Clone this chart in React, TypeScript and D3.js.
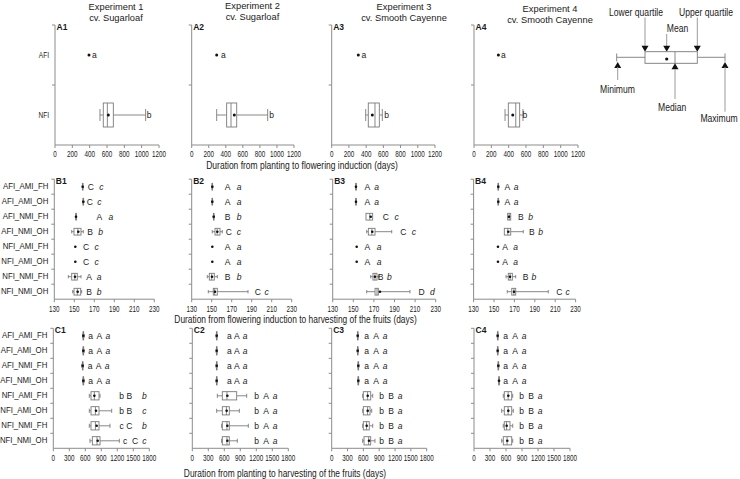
import React from "react";
import * as d3 from "d3";

type Stat = [number | null, number | null, number | null, number | null, number | null, number];

// ---------- categories & ticks ----------
const rowsA = ["AFI", "NFI"];
const rowsBC = ["AFI_AMI_FH", "AFI_AMI_OH", "AFI_NMI_FH", "AFI_NMI_OH", "NFI_AMI_FH", "NFI_AMI_OH", "NFI_NMI_FH", "NFI_NMI_OH"];
const expTitles = ["Experiment 1", "Experiment 2", "Experiment 3", "Experiment 4"];
const cvTitles = ["cv. Sugarloaf", "cv. Sugarloaf", "cv. Smooth Cayenne", "cv. Smooth Cayenne"];
const ticksA = [0, 200, 400, 600, 800, 1000, 1200];
const ticksB = [130, 150, 170, 190, 210, 230];
const ticksC = [0, 300, 600, 900, 1200, 1500, 1800];
const axisTitleA = "Duration from planting to flowering induction (days)";
const axisTitleB = "Duration from flowering induction to harvesting of the fruits (days)";
const axisTitleC = "Duration from planting to harvesting of the fruits (days)";

// ---------- Row A: [min, q1, median, q3, max, mean] ----------
const statsA1: Stat[] = [[null, null, null, null, null, 392], [519, 557, 604, 673, 1046, 615]];
const statsA2: Stat[] = [[null, null, null, null, null, 293], [293, 410, 461, 528, 891, 500]];
const statsA3: Stat[] = [[null, null, null, null, null, 309], [395, 425, 503, 553, 588, 472]];
const statsA4: Stat[] = [[null, null, null, null, null, 281], [358, 396, 482, 527, 565, 447]];
const lettersA = ["a", "b"];
const labelAtA1 = [[453], [1085]];
const labelAtA2 = [[371], [938]];
const labelAtA3 = [[375], [639]];
const labelAtA4 = [[338], [588]];

// ---------- Row B ----------
const statsB1: Stat[] = [
  [158.0, 158.1, 158.4, 158.7, 158.8, 158.4],
  [158.6, 158.7, 159.0, 159.3, 159.4, 159.0],
  [151.4, 151.5, 151.7, 152.0, 152.1, 151.7],
  [147.4, 149.7, 153.5, 156.7, 159.0, 154.0],
  [null, null, null, null, null, 151.0],
  [null, null, null, null, null, 151.0],
  [144.0, 147.4, 150.5, 153.0, 156.7, 150.7],
  [148.4, 149.7, 153.0, 156.4, 157.4, 153.4],
];
const statsB2: Stat[] = [
  [150.2, 150.3, 150.6, 150.9, 151.0, 150.6],
  [150.2, 150.3, 150.6, 150.9, 151.0, 150.6],
  [151.6, 151.7, 152.0, 152.3, 152.4, 152.0],
  [150.6, 153.3, 155.5, 158.3, 160.6, 155.6],
  [null, null, null, null, null, 150.6],
  [null, null, null, null, null, 150.6],
  [145.6, 147.6, 150.0, 152.6, 155.6, 150.3],
  [146.6, 151.6, 153.0, 155.6, 186.3, 153.3],
];
const statsB3: Stat[] = [
  [152.2, 152.3, 152.6, 152.9, 153.0, 152.6],
  [152.2, 152.3, 152.6, 152.9, 153.0, 152.6],
  [162.3, 162.3, 166.0, 168.8, 168.8, 166.9],
  [163.0, 164.6, 168.0, 171.1, 187.3, 168.4],
  [null, null, null, null, null, 153.3],
  [null, null, null, null, null, 153.3],
  [166.9, 169.1, 171.0, 173.0, 175.0, 171.0],
  [163.0, 171.1, 173.0, 174.3, 205.0, 175.9],
];
const statsB4: Stat[] = [
  [153.8, 153.9, 154.2, 154.5, 154.6, 154.2],
  [153.8, 153.9, 154.2, 154.5, 154.6, 154.2],
  [163.4, 163.4, 164.9, 166.4, 166.4, 164.7],
  [160.1, 160.1, 163.5, 166.4, 178.7, 164.0],
  [null, null, null, null, null, 153.9],
  [null, null, null, null, null, 153.9],
  [161.8, 164.0, 165.8, 168.0, 171.3, 165.7],
  [163.0, 167.4, 169.5, 171.3, 203.2, 169.6],
];
const upperB1 = ["C", "C", "A", "B", "C", "C", "A", "B"];
const upperB2 = ["A", "A", "B", "C", "A", "A", "B", "C"];
const upperB3 = ["A", "A", "C", "C", "A", "A", "B", "D"];
const upperB4 = ["A", "A", "B", "B", "A", "A", "B", "C"];
const italB1 = ["c", "c", "a", "b", "c", "c", "a", "b"];
const italB2 = ["a", "a", "b", "c", "a", "a", "b", "c"];
const italB3 = ["a", "a", "c", "c", "a", "a", "b", "d"];
const italB4 = ["a", "a", "b", "b", "a", "a", "b", "c"];
const labelAtB1 = [[166.5, 177], [165.5, 175], [175, 186.5], [165.7, 176.4], [161.7, 172.4], [161.7, 172.4], [164.7, 174.7], [164.7, 174.7]];
const labelAtB2 = [[166, 177.3], [166, 177.3], [166, 177.3], [167, 177.3], [166, 177.3], [166, 177.3], [166, 177.3], [196, 205]];
const labelAtB3 = [[163.6, 172.7], [163.6, 172.7], [181.5, 192.1], [198.5, 208.9], [163.6, 175], [163.6, 175], [176.4, 185], [216.4, 226.7]];
const labelAtB4 = [[163, 171.6], [163, 171.6], [176.2, 186], [187, 195.8], [160.8, 171.3], [160.8, 171.3], [181, 189.2], [214, 222.3]];

// ---------- Row C ----------
const statsC1: Stat[] = [
  [548, 558, 563, 568, 578, 563],
  [548, 558, 563, 568, 578, 563],
  [535, 545, 550, 555, 565, 550],
  [548, 558, 563, 568, 578, 563],
  [675, 707, 770, 857, 876, 770],
  [675, 707, 790, 857, 1095, 801],
  [675, 707, 790, 857, 1063, 813],
  [688, 732, 820, 876, 1238, 832],
];
const statsC2: Stat[] = [
  [447, 452, 457, 462, 467, 457],
  [447, 452, 457, 462, 467, 457],
  [447, 452, 457, 462, 467, 457],
  [447, 452, 457, 462, 467, 457],
  [469, 563, 650, 832, 1020, 657],
  [457, 563, 640, 694, 882, 644],
  [550, 563, 650, 694, 1050, 657],
  [550, 563, 650, 694, 844, 657],
];
const statsC3: Stat[] = [
  [483, 488, 493, 498, 503, 493],
  [483, 488, 493, 498, 503, 493],
  [494, 499, 504, 509, 514, 504],
  [494, 499, 504, 509, 514, 504],
  [587, 599, 680, 739, 777, 682],
  [587, 599, 680, 726, 758, 682],
  [587, 599, 660, 712, 777, 663],
  [587, 612, 700, 739, 820, 707],
];
const statsC4: Stat[] = [
  [434, 439, 444, 449, 454, 444],
  [434, 439, 444, 449, 454, 444],
  [446, 451, 456, 461, 466, 456],
  [459, 464, 469, 474, 479, 469],
  [549, 568, 640, 707, 726, 643],
  [519, 568, 640, 707, 737, 643],
  [549, 568, 610, 675, 726, 613],
  [519, 549, 620, 707, 726, 624],
];
const firstC1 = ["a", "a", "a", "a", "b", "b", "c", "c"];
const upperC1 = ["A", "A", "A", "A", "B", "B", "C", "C"];
const italC1 = ["a", "a", "a", "a", "b", "c", "b", "c"];
const firstC2 = ["a", "a", "a", "a", "b", "b", "b", "b"];
const upperC2 = ["A", "A", "A", "A", "A", "A", "A", "A"];
const italC2 = ["a", "a", "a", "a", "a", "a", "a", "a"];
const firstC3 = ["a", "a", "a", "a", "b", "b", "b", "b"];
const upperC3 = ["A", "A", "A", "A", "B", "B", "B", "B"];
const italC3 = ["a", "a", "a", "a", "a", "a", "a", "a"];
const firstC4 = ["a", "a", "a", "a", "b", "b", "b", "b"];
const upperC4 = ["A", "A", "A", "A", "B", "B", "B", "B"];
const italC4 = ["a", "a", "a", "a", "a", "a", "a", "a"];
const labelAtC1 = [[702, 863, 1021], [702, 863, 1021], [690, 851, 1008], [702, 863, 1021], [1283, 1426, 1707], [1283, 1426, 1707], [1283, 1426, 1707], [1345, 1533, 1707]];
const labelAtC2 = [[694, 833, 989], [694, 833, 989], [694, 833, 989], [694, 833, 989], [1208, 1383, 1552], [1208, 1383, 1552], [1208, 1383, 1552], [1208, 1383, 1552]];
const labelAtC3 = [[663, 839, 1010], [663, 839, 1010], [663, 839, 1010], [663, 839, 1010], [947, 1124, 1294], [947, 1124, 1294], [947, 1124, 1294], [947, 1124, 1294]];
const labelAtC4 = [[594, 769, 938], [594, 769, 938], [594, 769, 938], [594, 769, 938], [894, 1069, 1238], [894, 1069, 1238], [894, 1069, 1238], [894, 1069, 1238]];

// ---------- styling / layout ----------
const FONT = "'Liberation Sans', Arial, Helvetica, sans-serif";
const TXT = "#1a1a1a";
const AX = "#8c8c8c";
const BOX = "#7a7a7a";

function T(props: any) {
  const { x, y, children, size = 9, sx = 1, anchor = "middle", weight = "normal", italic = false, fill = TXT } = props;
  return (
    <text
      transform={`translate(${x},${y}) scale(${sx},1)`}
      textAnchor={anchor}
      dominantBaseline="central"
      fontSize={size}
      fontFamily={FONT}
      fontWeight={weight}
      fontStyle={italic ? "italic" : "normal"}
      fill={fill}
    >
      {children}
    </text>
  );
}

function Panel(props: any) {
  const { name, range, top, bottom, domain, ticks, rows, stats, letters, italics, labelAt, boxFrac, rowLabels, rowLabelSx, dotR } = props;
  const x = d3.scaleLinear().domain(domain).range(range);
  const y = d3.scaleBand<string>().domain(rows).range([top, bottom]);
  const bw = y.bandwidth();
  const bh = bw * boxFrac;
  const x0 = range[0];
  return (
    <g>
      <line x1={x0} x2={x0} y1={top} y2={bottom} stroke={AX} strokeWidth={1} />
      <line x1={x0} x2={range[1]} y1={bottom} y2={bottom} stroke={AX} strokeWidth={1} />
      {rows.map((r: string, i: number) => (
        <line key={"yt" + i} x1={x0 - 3} x2={x0} y1={(y(r) as number)} y2={(y(r) as number)} stroke={AX} strokeWidth={1} />
      ))}
      {ticks.map((t: number) => (
        <g key={"xt" + t}>
          <line x1={x(t)} x2={x(t)} y1={bottom} y2={bottom + 3} stroke={AX} strokeWidth={1} />
          <T x={x(t)} y={bottom + 9.5} size={9} sx={0.7}>{t}</T>
        </g>
      ))}
      {rowLabels && rows.map((r: string) => (
        <T key={"rl" + r} x={x0 - 6} y={(y(r) as number) + bw / 2} size={8.7} sx={rowLabelSx} anchor="end">{r}</T>
      ))}
      <T x={x0 + 1.5} y={top + 2} size={8.5} anchor="start" weight="bold">{name}</T>
      {stats.map((s: Stat, i: number) => {
        const cy = (y(rows[i]) as number) + bw / 2;
        const [mn, q1, md, q3, mx, mean] = s;
        const els: any[] = [];
        if (mn != null && q1 != null && mn < q1) {
          els.push(<line key="w1" x1={x(mn)} x2={x(q1)} y1={cy} y2={cy} stroke={BOX} strokeWidth={0.9} />);
          els.push(<line key="c1" x1={x(mn)} x2={x(mn)} y1={cy - bh * 0.25} y2={cy + bh * 0.25} stroke={BOX} strokeWidth={0.9} />);
        }
        if (mx != null && q3 != null && mx > q3) {
          els.push(<line key="w2" x1={x(q3)} x2={x(mx)} y1={cy} y2={cy} stroke={BOX} strokeWidth={0.9} />);
          els.push(<line key="c2" x1={x(mx)} x2={x(mx)} y1={cy - bh * 0.25} y2={cy + bh * 0.25} stroke={BOX} strokeWidth={0.9} />);
        }
        if (q1 != null && q3 != null) {
          els.push(<rect key="b" x={x(q1)} y={cy - bh / 2} width={Math.max(0.6, x(q3) - x(q1))} height={bh} fill="#fff" stroke={BOX} strokeWidth={0.9} />);
        }
        if (md != null) {
          els.push(<line key="m" x1={x(md)} x2={x(md)} y1={cy - bh / 2} y2={cy + bh / 2} stroke={BOX} strokeWidth={0.9} />);
        }
        els.push(<circle key="mean" cx={x(mean)} cy={cy} r={dotR} fill="#111" />);
        labelAt[i].forEach((v: number, k: number) => {
          els.push(
            <T key={"l" + k} x={x(v)} y={cy} size={9.5} sx={0.9} italic={italics[k]}>{letters[k][i]}</T>
          );
        });
        return <g key={"r" + i}>{els}</g>;
      })}
    </g>
  );
}

function Legend() {
  const tri = (cx: number, tip: number, down: boolean) => {
    const h = 6, w = 3.5;
    const base = down ? tip - h : tip + h;
    return <path d={`M${cx - w},${base}L${cx + w},${base}L${cx},${tip}Z`} fill="#111" />;
  };
  const g = "#9a9a9a";
  return (
    <g>
      <T x={636} y={12.3} size={10} sx={0.86}>Lower quartile</T>
      <T x={706} y={12.3} size={10} sx={0.86}>Upper quartile</T>
      <T x={677.5} y={28.3} size={10} sx={0.86}>Mean</T>
      <line x1={645} x2={645} y1={17.5} y2={46} stroke={g} />
      <line x1={697.3} x2={697.3} y1={17.5} y2={46} stroke={g} />
      <line x1={666.7} x2={666.7} y1={34} y2={46} stroke={g} />
      {tri(645, 51.7, true)}
      {tri(697.3, 51.7, true)}
      {tri(666.7, 51.7, true)}
      <line x1={616.7} x2={645} y1={57.3} y2={57.3} stroke={BOX} strokeWidth={0.9} />
      <line x1={697.3} x2={725} y1={57.3} y2={57.3} stroke={BOX} strokeWidth={0.9} />
      <line x1={616.7} x2={616.7} y1={53.5} y2={61.5} stroke={BOX} strokeWidth={0.9} />
      <line x1={725} x2={725} y1={53.5} y2={61.5} stroke={BOX} strokeWidth={0.9} />
      <rect x={645} y={51.7} width={52.3} height={11.6} fill="#fff" stroke={BOX} strokeWidth={0.9} />
      <line x1={675} x2={675} y1={51.7} y2={63.3} stroke={BOX} strokeWidth={0.9} />
      <circle cx={666.7} cy={59} r={1.6} fill="#111" />
      {tri(617.7, 62, false)}
      {tri(675, 63.3, false)}
      {tri(725, 62, false)}
      <line x1={617.7} x2={617.7} y1={67} y2={80} stroke={g} />
      <line x1={675} x2={675} y1={69} y2={99} stroke={g} />
      <line x1={725} x2={725} y1={67} y2={111.7} stroke={g} />
      <T x={617.5} y={89.3} size={10} sx={0.86}>Minimum</T>
      <T x={672.2} y={107.7} size={10} sx={0.86}>Median</T>
      <T x={719} y={118.3} size={10} sx={0.86}>Maximum</T>
    </g>
  );
}

// panel positions (px)
const rangesA = [[55, 159], [191.7, 294], [331.7, 435], [474, 578]];
const rangesB = [[54.3, 154.3], [191.7, 291.7], [332.7, 435.7], [473.6, 575.6]];
const rangesC = [[53.3, 149.3], [192.3, 288.3], [331.7, 426.7], [474, 570]];
const titleX = [116, 252.5, 404, 550];
const titleY1 = [6.3, 5.5, 6.5, 8];
const titleY2 = [17.5, 16.7, 17.7, 19.2];

export default function App() {
  const statsA = [statsA1, statsA2, statsA3, statsA4];
  const labA = [labelAtA1, labelAtA2, labelAtA3, labelAtA4];
  const statsB = [statsB1, statsB2, statsB3, statsB4];
  const labB = [labelAtB1, labelAtB2, labelAtB3, labelAtB4];
  const upB = [upperB1, upperB2, upperB3, upperB4];
  const itB = [italB1, italB2, italB3, italB4];
  const statsC = [statsC1, statsC2, statsC3, statsC4];
  const labC = [labelAtC1, labelAtC2, labelAtC3, labelAtC4];
  const fC = [firstC1, firstC2, firstC3, firstC4];
  const uC = [upperC1, upperC2, upperC3, upperC4];
  const iC = [italC1, italC2, italC3, italC4];
  return (
    <svg width={740} height={479} style={{ position: "absolute", left: 0, top: 0, background: "#fff" }}>
      <rect width={740} height={479} fill="#fff" />
      {expTitles.map((t, i) => (
        <g key={"t" + i}>
          <T x={titleX[i]} y={titleY1[i]} size={9.5} sx={0.98}>{t}</T>
          <T x={titleX[i]} y={titleY2[i]} size={9.5} sx={0.98}>{cvTitles[i]}</T>
        </g>
      ))}
      <Legend />
      {[0, 1, 2, 3].map((i) => (
        <Panel key={"A" + i} name={"A" + (i + 1)} range={rangesA[i]} top={25} bottom={145} domain={[0, 1200]} ticks={ticksA}
          rows={rowsA} stats={statsA[i]} letters={[lettersA]} italics={[false]} labelAt={labA[i]} boxFrac={0.4}
          rowLabels={i === 0} rowLabelSx={0.75} dotR={1.5} />
      ))}
      {[0, 1, 2, 3].map((i) => (
        <Panel key={"B" + i} name={"B" + (i + 1)} range={rangesB[i]} top={179.2} bottom={299.2} domain={[130, 230]} ticks={ticksB}
          rows={rowsBC} stats={statsB[i]} letters={[upB[i], itB[i]]} italics={[false, true]} labelAt={labB[i]} boxFrac={0.45}
          rowLabels={i === 0} rowLabelSx={0.9} dotR={1.3} />
      ))}
      {[0, 1, 2, 3].map((i) => (
        <Panel key={"C" + i} name={"C" + (i + 1)} range={rangesC[i]} top={328.3} bottom={448.3} domain={[0, 1800]} ticks={ticksC}
          rows={rowsBC} stats={statsC[i]} letters={[fC[i], uC[i], iC[i]]} italics={[false, false, true]} labelAt={labC[i]} boxFrac={0.55}
          rowLabels={i === 0} rowLabelSx={0.9} dotR={1.3} />
      ))}
      <T x={302} y={166} size={10} sx={0.85}>{axisTitleA}</T>
      <T x={295.5} y={319.5} size={10} sx={0.84}>{axisTitleB}</T>
      <T x={285} y={474} size={10} sx={0.84}>{axisTitleC}</T>
    </svg>
  );
}
